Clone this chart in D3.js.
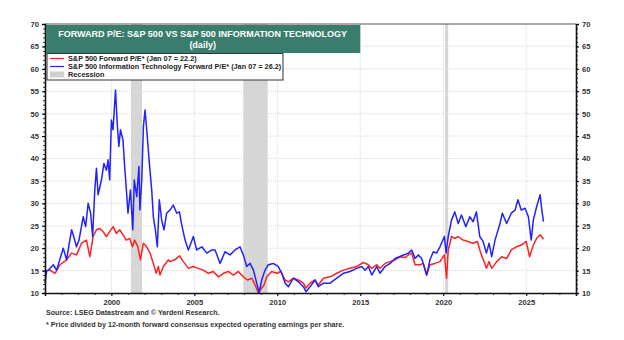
<!DOCTYPE html>
<html>
<head>
<meta charset="utf-8">
<script src="https://cdn.jsdelivr.net/npm/d3@7"></script>
<style>
  body { margin: 0; background: #fff; font-family: "Liberation Sans", Arial, sans-serif; }
  .tick text { font-size: 7.6px; font-weight: bold; fill: #333; }
  .grid line { stroke: #d8d8d8; stroke-dasharray: 1,1; }
</style>
</head>
<body>
<svg id="chart" width="624" height="340"></svg>
<script>

// S&P 500 forward P/E (year, value)
var spYears = [1996.0,1996.3,1996.6,1996.9,1997.3,1997.6,1997.9,1998.2,1998.5,1998.7,1998.9,1999.1,1999.3,1999.5,1999.7,1999.9,
  2000.1,2000.3,2000.5,2000.7,2000.9,2001.1,2001.27,2001.4,2001.6,2001.75,2001.93,2002.13,2002.33,2002.53,2002.7,2002.83,2002.93,
  2003.13,2003.43,2003.53,2003.83,2004.1,2004.34,2004.64,2004.94,2005.24,2005.54,2005.84,2006.14,2006.45,2006.75,2007.05,2007.35,
  2007.65,2007.95,2008.2,2008.46,2008.66,2008.86,2009.06,2009.2,2009.36,2009.66,2009.97,2010.21,2010.47,2010.67,2010.97,2011.27,
  2011.57,2011.73,2011.97,2012.27,2012.47,2012.78,2013.18,2013.58,2013.98,2014.38,2014.78,2015.18,2015.49,2015.69,2015.99,2016.19,
  2016.49,2016.8,2017.1,2017.4,2017.7,2017.9,2018.1,2018.3,2018.6,2018.8,2019.0,2019.2,2019.5,2019.8,2020.07,2020.2,2020.3,2020.5,
  2020.7,2020.9,2021.2,2021.5,2021.8,2022.06,2022.26,2022.46,2022.6,2022.76,2022.92,2023.22,2023.52,2023.82,2024.1,2024.4,2024.7,
  2025.0,2025.2,2025.43,2025.63,2025.84,2026.04];
var spValues = [14.8,15.1,14.4,16.3,17.4,18.9,18.5,21.1,21.8,18.1,22.6,24.1,24.4,23.7,22.6,23.7,
  24.8,23.3,24.1,23.0,21.8,22.2,20.3,21.8,20.3,17.4,21.1,20.3,18.9,16.6,14.4,15.9,14.0,
  15.9,17.4,17.0,17.4,18.3,17.0,15.5,15.9,15.5,15.1,14.4,14.8,13.6,14.4,14.8,14.0,
  14.8,13.6,12.9,13.3,11.8,10.0,11.1,11.8,13.6,14.8,14.4,14.8,12.9,12.5,13.3,12.9,
  12.2,11.1,12.2,12.9,11.8,13.3,13.6,14.4,15.1,15.5,15.9,16.8,16.3,15.5,16.3,15.5,
  16.6,17.0,17.4,18.1,17.9,18.5,18.9,16.3,16.3,16.6,14.0,16.3,16.6,17.0,18.5,13.3,19.6,22.6,
  22.2,22.6,21.8,21.5,21.1,21.5,18.9,17.0,15.5,17.0,15.5,17.0,18.1,17.7,19.6,20.3,20.7,
  21.5,18.1,20.7,22.2,23.0,22.0];

// S&P 500 Information Technology forward P/E
var itYears = [1996.0,1996.1,1996.2,1996.5,1996.7,1997.1,1997.3,1997.6,1997.7,1997.9,1998.05,1998.3,1998.45,1998.6,1998.75,1998.87,
  1999.0,1999.1,1999.2,1999.4,1999.55,1999.7,1999.8,1999.9,2000.0,2000.1,2000.25,2000.35,2000.45,2000.55,2000.7,2000.8,2000.92,
  2001.0,2001.15,2001.29,2001.38,2001.53,2001.66,2001.72,2001.83,2001.93,2002.03,2002.13,2002.29,2002.43,2002.53,2002.65,2002.77,
  2002.89,2003.03,2003.17,2003.33,2003.53,2003.73,2003.94,2004.1,2004.24,2004.44,2004.64,2004.94,2005.14,2005.45,2005.75,2006.05,
  2006.25,2006.55,2006.85,2007.15,2007.45,2007.75,2007.95,2008.16,2008.36,2008.56,2008.76,2008.9,2009.06,2009.26,2009.46,2009.76,
  2010.06,2010.27,2010.47,2010.67,2010.97,2011.27,2011.57,2011.73,2011.97,2012.27,2012.47,2012.78,2013.18,2013.58,2013.98,2014.38,
  2014.78,2015.09,2015.29,2015.49,2015.69,2015.99,2016.19,2016.49,2016.8,2017.1,2017.5,2017.9,2018.1,2018.3,2018.5,2018.7,2019.0,
  2019.2,2019.4,2019.6,2019.8,2020.07,2020.17,2020.3,2020.5,2020.7,2020.9,2021.1,2021.36,2021.6,2021.8,2022.0,2022.2,2022.4,
  2022.6,2022.76,2022.92,2023.12,2023.42,2023.56,2023.82,2024.1,2024.33,2024.5,2024.7,2024.93,2025.13,2025.3,2025.43,2025.63,
  2025.84,2025.94,2026.04];
var itValues = [12.2,15.0,15.1,16.3,15.1,20.0,17.4,24.1,23.0,20.3,21.8,27.0,24.8,30.0,27.8,22.6,
  33.0,37.8,31.9,35.2,38.9,37.4,39.7,35.2,48.6,46.4,55.3,47.9,42.7,46.4,44.1,38.2,32.2,
  27.8,33.0,24.1,35.2,31.5,38.2,28.5,35.2,47.1,50.8,46.4,38.9,33.0,27.0,24.1,20.3,
  30.8,26.3,24.1,27.8,28.5,29.6,27.8,28.1,25.2,21.8,19.6,22.6,19.6,20.3,18.9,19.6,
  19.6,16.6,19.2,18.5,19.6,20.3,18.5,15.9,16.6,15.1,12.2,10.1,12.9,15.1,16.3,16.6,
  15.9,14.4,12.2,11.4,13.3,12.5,11.4,10.3,11.4,12.9,11.4,12.2,12.2,13.3,14.4,14.8,
  15.5,15.9,15.1,15.9,14.0,15.9,14.4,15.9,16.6,17.7,18.3,18.9,19.6,17.7,18.5,17.7,14.0,
  17.4,19.2,18.9,20.3,22.6,18.9,22.6,26.3,28.1,25.5,27.4,24.8,27.0,25.9,28.1,22.6,21.5,
  18.9,21.1,18.1,21.8,25.5,27.8,25.5,27.8,28.5,30.8,28.5,28.9,27.0,21.8,26.3,29.3,
  31.9,28.5,25.9];

var recessions = [[2001.18, 2001.85], [2007.95, 2009.42], [2020.1, 2020.3]];
var yTicks = [10, 15, 20, 25, 30, 35, 40, 45, 50, 55, 60, 65, 70];
var xTicks = [2000, 2005, 2010, 2015, 2020, 2025];

var legendLabels = [
  "S&P 500 Forward P/E* (Jan 07 = 22.2)",
  "S&P 500 Information Technology Forward P/E* (Jan 07 = 26.2)",
  "Recession"
];

var plotLeft = 45, plotRight = 576, plotTop = 24, plotBottom = 293;
var svg = d3.select("#chart");

var x = d3.scaleLinear().domain([1996, 2028]).range([plotLeft, plotRight]);
var y = d3.scaleLinear().domain([10, 70]).range([plotBottom, plotTop]);

// recession bars
svg.selectAll("rect.rec")
    .data(recessions)
    .enter().append("rect")
    .attr("x", function (d) { return x(d[0]); })
    .attr("width", function (d) { return x(d[1]) - x(d[0]); })
    .attr("y", plotTop)
    .attr("height", plotBottom - plotTop)
    .attr("fill", "#d6d6d6");

// grid
var grid = svg.append("g").attr("class", "grid");
grid.selectAll("line.h")
    .data(yTicks.slice(1, -1))
    .enter().append("line")
    .attr("x1", plotLeft).attr("x2", plotRight)
    .attr("y1", function (d) { return y(d); })
    .attr("y2", function (d) { return y(d); });
grid.selectAll("line.v")
    .data(xTicks)
    .enter().append("line")
    .attr("y1", plotTop).attr("y2", plotBottom)
    .attr("x1", function (d) { return x(d); })
    .attr("x2", function (d) { return x(d); });

function lineOf(xs, vs) {
    var pts = xs.map(function (d, i) { return [d, vs[i]]; });
    return d3.line()
        .x(function (d) { return x(d[0]); })
        .y(function (d) { return y(d[1]); })(pts);
}

svg.append("path")
    .attr("d", lineOf(spYears, spValues))
    .attr("fill", "none")
    .attr("stroke", "#f22")
    .attr("stroke-width", 1.5)
    .attr("stroke-linejoin", "round");

svg.append("path")
    .attr("d", lineOf(itYears, itValues))
    .attr("fill", "none")
    .attr("stroke", "#22f")
    .attr("stroke-width", 1.5)
    .attr("stroke-linejoin", "round");

// frame
svg.append("line").attr("x1", plotLeft).attr("x2", plotRight).attr("y1", plotTop).attr("y2", plotTop)
    .attr("stroke", "#555").attr("stroke-width", 1);

// axes
var minorY = d3.range(10, 71, 1);
var minorX = d3.range(1996, 2029, 1);

svg.append("g")
    .attr("transform", "translate(" + plotLeft + ",0)")
    .call(d3.axisLeft(y).tickValues(minorY).tickSize(2).tickFormat(""))
    .call(function (g) { g.select(".domain").remove(); g.selectAll("line").attr("stroke", "#333"); });
svg.append("g")
    .attr("transform", "translate(" + plotLeft + ",0)")
    .call(d3.axisLeft(y).tickValues(yTicks).tickSize(3).tickPadding(3))
    .call(function (g) { g.select(".domain").attr("stroke", "#111").attr("stroke-width", 1.6); });

svg.append("g")
    .attr("transform", "translate(" + plotRight + ",0)")
    .call(d3.axisRight(y).tickValues(minorY).tickSize(2).tickFormat(""))
    .call(function (g) { g.select(".domain").remove(); g.selectAll("line").attr("stroke", "#333"); });
svg.append("g")
    .attr("transform", "translate(" + plotRight + ",0)")
    .call(d3.axisRight(y).tickValues(yTicks).tickSize(3).tickPadding(3))
    .call(function (g) { g.select(".domain").attr("stroke", "#111").attr("stroke-width", 1.6); });

svg.append("g")
    .attr("transform", "translate(0," + plotBottom + ")")
    .call(d3.axisBottom(x).tickValues(minorX).tickSize(2).tickFormat(""))
    .call(function (g) { g.select(".domain").remove(); g.selectAll("line").attr("stroke", "#333"); });
svg.append("g")
    .attr("transform", "translate(0," + plotBottom + ")")
    .call(d3.axisBottom(x).tickValues(xTicks).tickSize(3).tickPadding(4).tickFormat(d3.format("d")))
    .call(function (g) { g.select(".domain").attr("stroke", "#111").attr("stroke-width", 1.6); });

// title box
svg.append("rect")
    .attr("x", plotLeft + 1).attr("y", plotTop + 1)
    .attr("width", x(2015) - plotLeft - 1).attr("height", 28)
    .attr("fill", "#3b7d6d");
var tx = (plotLeft + x(2015)) / 2;
svg.append("text").attr("x", tx).attr("y", 36.5)
    .attr("text-anchor", "middle").attr("fill", "#fff")
    .style("font-size", "9px").style("font-weight", "bold")
    .text("FORWARD P/E: S&P 500 VS S&P 500 INFORMATION TECHNOLOGY");
svg.append("text").attr("x", tx).attr("y", 48)
    .attr("text-anchor", "middle").attr("fill", "#fff")
    .style("font-size", "9px").style("font-weight", "bold")
    .text("(daily)");

// legend
var lg = svg.append("g");
lg.append("rect")
    .attr("x", 47).attr("y", 53.5).attr("width", 236).attr("height", 26.5)
    .attr("fill", "#fff").attr("stroke", "#333").attr("stroke-width", 1);
var legendColors = ["#f22", "#22f", "#d0d0d0"];
legendLabels.forEach(function (t, i) {
    var ly = 58.5 + i * 8;
    if (i < 2) {
        lg.append("line").attr("x1", 50).attr("x2", 64).attr("y1", ly).attr("y2", ly)
            .attr("stroke", legendColors[i]).attr("stroke-width", 1.2);
    } else {
        lg.append("rect").attr("x", 50).attr("y", ly - 3).attr("width", 14).attr("height", 6)
            .attr("fill", legendColors[i]);
    }
    lg.append("text").attr("x", 68).attr("y", ly + 2.5)
        .attr("fill", "#222")
        .style("font-size", "7.3px").style("font-weight", "bold")
        .text(t);
});

// notes
svg.append("text").attr("x", 46).attr("y", 315)
    .attr("fill", "#333").style("font-size", "7.1px").style("font-weight", "bold")
    .text("Source: LSEG Datastream and \u00a9 Yardeni Research.");
svg.append("text").attr("x", 46).attr("y", 327)
    .attr("fill", "#333").style("font-size", "7.2px").style("font-weight", "bold")
    .text("* Price divided by 12-month forward consensus expected operating earnings per share.");

</script>
</body>
</html>
